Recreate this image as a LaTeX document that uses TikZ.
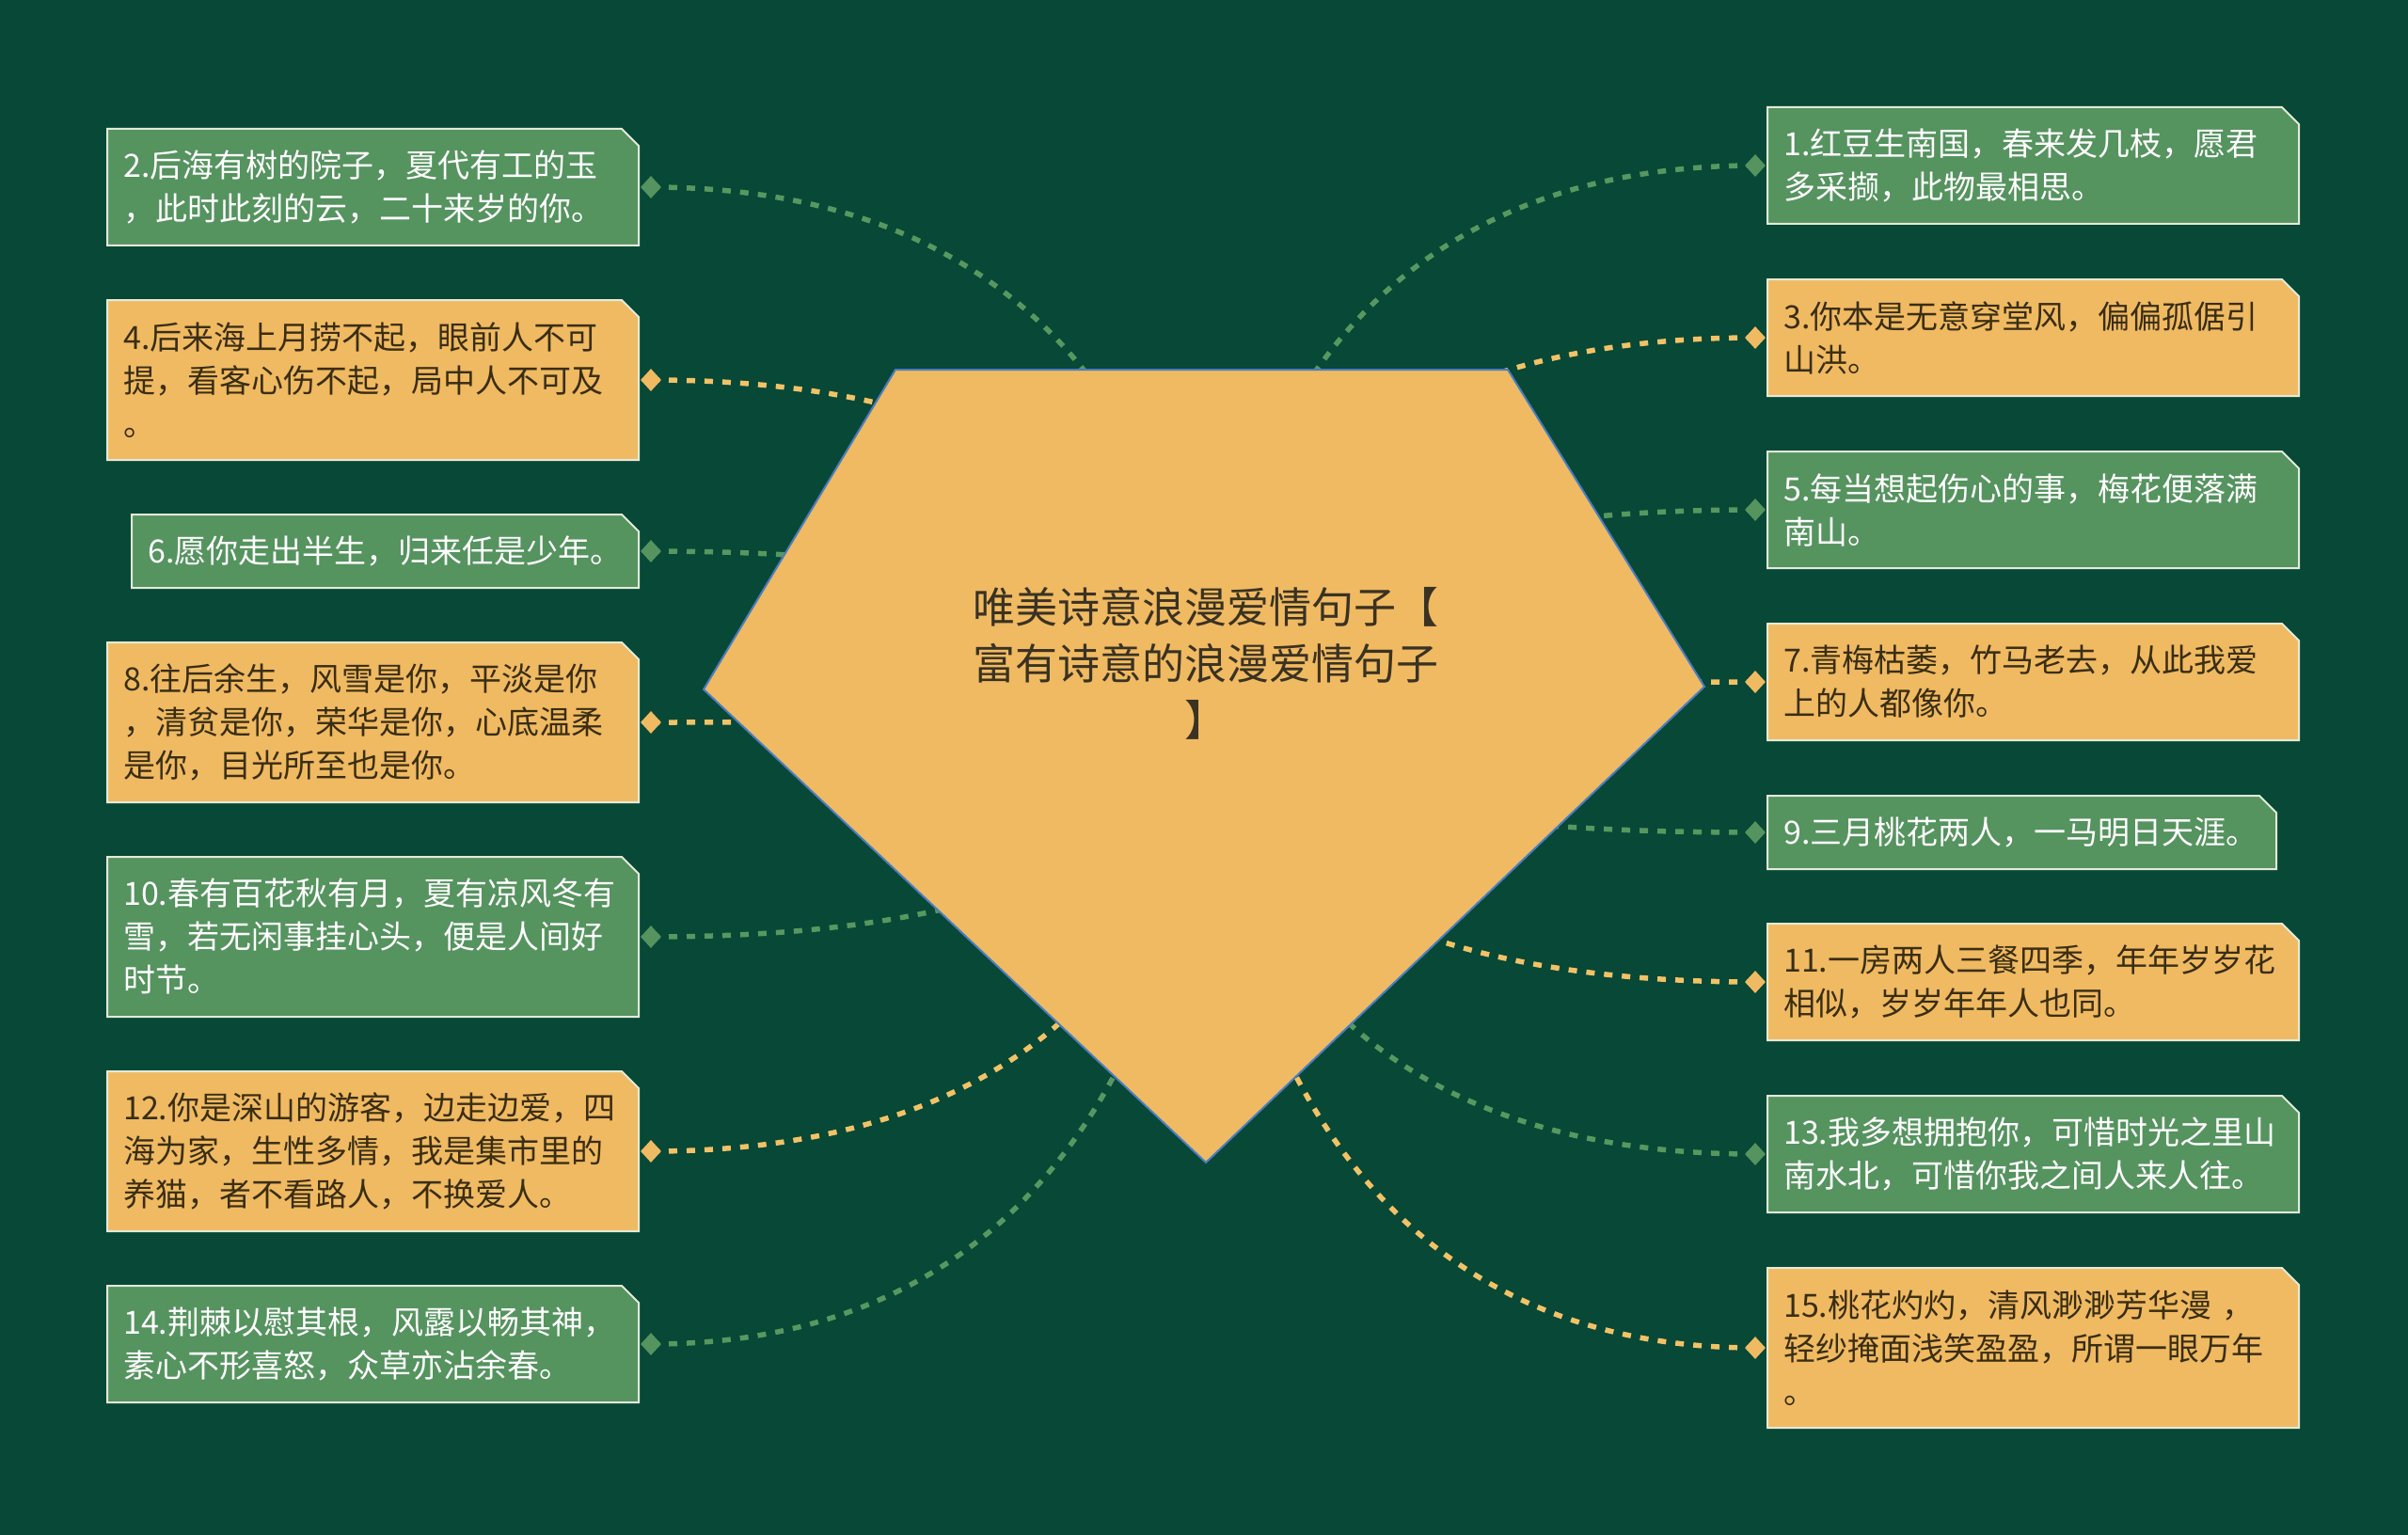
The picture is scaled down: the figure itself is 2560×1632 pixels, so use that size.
\documentclass[tikz,border=0pt]{standalone}
\usepackage{fontspec}
\newfontfamily\cjk{Noto Sans CJK SC}
\usetikzlibrary{shapes.geometric}
\definecolor{bgc}{HTML}{074837}
\definecolor{gfill}{HTML}{55935F}
\definecolor{ofill}{HTML}{F0BA62}
\definecolor{bord}{HTML}{E4EAD8}
\definecolor{gln}{HTML}{56985F}
\definecolor{oln}{HTML}{F2C266}
\definecolor{pedge}{HTML}{4A7DC0}
\definecolor{ttxt}{HTML}{3A3222}
\definecolor{otxtc}{HTML}{3A2E12}
\pgfdeclarelayer{bgl}\pgfdeclarelayer{lines}\pgfsetlayers{bgl,lines,main}
\newcommand\qb[8]{%
 \filldraw[#6box] (#2,#3) -- (#4-18,#3) -- (#4,#3+18) -- (#4,#5) -- (#2,#5) -- cycle;
 \node[#6txt] (t#1) at (#2+17,{(#3+#5)/2}) {#8};
 \node[#6dia] (d#1) at (#7,{(#3+#5)/2}) {};
 \begin{pgfonlayer}{lines}\draw[#6line] (d#1.center) .. controls (hub |- d#1) and (hub) .. (hub);\end{pgfonlayer}%
}
\begin{document}
\begin{tikzpicture}[x=1pt,y=-1pt,
 gbox/.style={fill=gfill,draw=bord,line width=2pt},
 obox/.style={fill=ofill,draw=bord,line width=2pt},
 txtbase/.style={anchor=west,inner sep=0pt,text width=550pt,align=left,font=\cjk\fontsize{34pt}{46pt}\selectfont},
 gtxt/.style={txtbase,text=white},
 otxt/.style={txtbase,text=otxtc},
 dia/.style={diamond,minimum width=22pt,minimum height=24pt,inner sep=0pt},
 gdia/.style={dia,fill=gfill},
 odia/.style={dia,fill=ofill},
 conn/.style={line width=5.5pt,dash pattern=on 9pt off 10pt},
 gline/.style={conn,draw=gln},
 oline/.style={conn,draw=oln}]
\begin{pgfonlayer}{bgl}
\fill[bgc] (0,0) rectangle (2560,1632);
\end{pgfonlayer}
\useasboundingbox (0,0) rectangle (2560,1632);
\coordinate (hub) at (1282,760);
% left side
\qb{2}{114}{137}{679}{261}{g}{692}{2.后海有树的院子，夏代有工的玉\\，此时此刻的云，二十来岁的你。}
\qb{4}{114}{319}{679}{489}{o}{692}{4.后来海上月捞不起，眼前人不可\\提，看客心伤不起，局中人不可及\\。}
\qb{6}{140}{547}{679}{625}{g}{692}{6.愿你走出半生，归来任是少年。}
\qb{8}{114}{683}{679}{853}{o}{692}{8.往后余生，风雪是你，平淡是你\\，清贫是你，荣华是你，心底温柔\\是你，目光所至也是你。}
\qb{10}{114}{911}{679}{1081}{g}{692}{10.春有百花秋有月，夏有凉风冬有\\雪，若无闲事挂心头，便是人间好\\时节。}
\qb{12}{114}{1139}{679}{1309}{o}{692}{12.你是深山的游客，边走边爱，四\\海为家，生性多情，我是集市里的\\养猫，者不看路人，不换爱人。}
\qb{14}{114}{1367}{679}{1491}{g}{692}{14.荆棘以慰其根，风露以畅其神，\\素心不形喜怒，众草亦沾余春。}
% right side
\qb{1}{1879}{114}{2444}{238}{g}{1866}{1.红豆生南国，春来发几枝，愿君\\多采撷，此物最相思。}
\qb{3}{1879}{297}{2444}{421}{o}{1866}{3.你本是无意穿堂风，偏偏孤倨引\\山洪。}
\qb{5}{1879}{480}{2444}{604}{g}{1866}{5.每当想起伤心的事，梅花便落满\\南山。}
\qb{7}{1879}{663}{2444}{787}{o}{1866}{7.青梅枯萎，竹马老去，从此我爱\\上的人都像你。}
\qb{9}{1879}{846}{2420}{924}{g}{1866}{9.三月桃花两人，一马明日天涯。}
\qb{11}{1879}{982}{2444}{1106}{o}{1866}{11.一房两人三餐四季，年年岁岁花\\相似，岁岁年年人也同。}
\qb{13}{1879}{1165}{2444}{1289}{g}{1866}{13.我多想拥抱你，可惜时光之里山\\南水北，可惜你我之间人来人往。}
\qb{15}{1879}{1348}{2444}{1518}{o}{1866}{15.桃花灼灼，清风渺渺芳华漫 ，\\轻纱掩面浅笑盈盈，所谓一眼万年\\。}
% centre pentagon
\filldraw[fill=ofill,draw=pedge,line width=2pt] (952,393) -- (1603,393) -- (1812,730) -- (1282,1236) -- (748,733) -- cycle;
\node[font=\cjk\fontsize{45pt}{60pt}\selectfont,text=ttxt,text width=620pt,align=center,inner sep=0pt] (title) at (1282,705) {唯美诗意浪漫爱情句子【\\富有诗意的浪漫爱情句子\\】};
\end{tikzpicture}
\end{document}
